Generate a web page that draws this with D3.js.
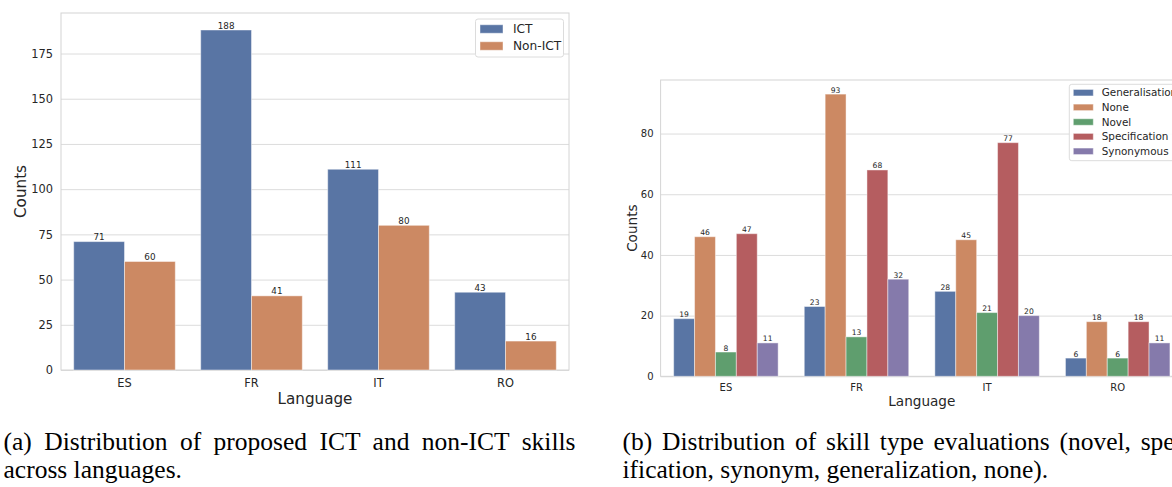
<!DOCTYPE html>
<html>
<head>
<meta charset="utf-8">
<script src="https://cdn.jsdelivr.net/npm/d3@7"></script>
<style>
  html, body { margin: 0; padding: 0; background: #ffffff; }
  svg { display: block; }
  .chart text { font-family: "DejaVu Sans", sans-serif; fill: #262626; }
  .caption { font-family: "Liberation Serif", "Times New Roman", serif; fill: #000; }
</style>
</head>
<body>
<svg id="fig" width="1172" height="487"></svg>
<script>
// Languages on the x axis of both panels
const languages = ["ES", "FR", "IT", "RO"];

// Panel (a): proposed skills per language
const ictSeries = ["ICT", "Non-ICT"];
const ictCounts = [71, 188, 111, 43];
const nonIctCounts = [60, 41, 80, 16];
const ictTicks = [0, 25, 50, 75, 100, 125, 150, 175];

// Panel (b): skill type evaluations per language
const typeSeries = ["Generalisation", "None", "Novel", "Specification", "Synonymous"];
const generalisationCounts = [19, 23, 28, 6];
const noneCounts = [46, 93, 45, 18];
const novelCounts = [8, 13, 21, 6];
const specificationCounts = [47, 68, 77, 18];
const synonymousCounts = [11, 32, 20, 11];
const typeTicks = [0, 20, 40, 60, 80];

const captionA = ["(a) Distribution of proposed ICT and non-ICT skills", "across languages."];
const captionB = ["(b) Distribution of skill type evaluations (novel, spec-", "ification, synonym, generalization, none)."];

// seaborn "deep" colours at 0.75 saturation
const palette = ["#5975a4", "#cc8963", "#5f9e6e", "#b55d60", "#857aab"];

const svg = d3.select("#fig");

function drawPanel(cfg) {
  const g = svg.append("g").attr("class", "chart");
  const { left, right, top, bottom } = cfg.frame;

  const x0 = d3.scaleBand().domain(languages).range([left, right]).paddingInner(0).paddingOuter(0);
  const inner = d3.scaleBand().domain(cfg.series)
    .range([0, x0.bandwidth() * 0.8]);
  const y = d3.scaleLinear().domain([0, cfg.ymax]).range([bottom, top]);

  // horizontal grid with tick labels
  const yAxis = d3.axisLeft(y).tickValues(cfg.ticks).tickSize(-(right - left)).tickPadding(cfg.tickPad);
  const ya = g.append("g").attr("transform", `translate(${left},0)`).call(yAxis);
  ya.select(".domain").remove();
  ya.selectAll(".tick line").attr("stroke", "#dcdcdc").attr("stroke-width", 1);
  ya.selectAll(".tick text").attr("font-size", cfg.tickFont).attr("fill", "#262626")
    .style("font-family", "DejaVu Sans, sans-serif");

  // frame
  g.append("rect").attr("x", left).attr("y", top).attr("width", right - left).attr("height", bottom - top)
    .attr("fill", "none").attr("stroke", "#d4d4d4").attr("stroke-width", 1);

  // bars and their value labels
  cfg.values.forEach((vals, si) => {
    const sg = g.append("g");
    sg.selectAll("rect").data(vals).join("rect")
      .attr("x", (d, i) => x0(languages[i]) + x0.bandwidth() * 0.1 + inner(cfg.series[si]))
      .attr("y", d => y(d))
      .attr("width", inner.bandwidth())
      .attr("height", d => y(0) - y(d))
      .attr("fill", palette[si])
      .attr("stroke", "rgba(255,255,255,0.45)")
      .attr("stroke-width", 1);
    sg.selectAll("text").data(vals).join("text")
      .attr("x", (d, i) => x0(languages[i]) + x0.bandwidth() * 0.1 + inner(cfg.series[si]) + inner.bandwidth() / 2)
      .attr("y", d => y(d) - 1.5)
      .attr("text-anchor", "middle")
      .attr("font-size", cfg.valueFont)
      .text(d => d);
  });

  // x axis labels
  const xAxis = d3.axisBottom(x0).tickSize(0).tickPadding(cfg.xPad);
  const xa = g.append("g").attr("transform", `translate(0,${bottom})`).call(xAxis);
  xa.select(".domain").remove();
  xa.selectAll(".tick text").attr("font-size", cfg.tickFont).attr("fill", "#262626")
    .style("font-family", "DejaVu Sans, sans-serif");

  // axis titles
  g.append("text").attr("x", (left + right) / 2).attr("y", cfg.xTitleY)
    .attr("text-anchor", "middle").attr("font-size", cfg.titleFont).text("Language");
  g.append("text")
    .attr("transform", `translate(${cfg.yTitleX},${(top + bottom) / 2}) rotate(-90)`)
    .attr("text-anchor", "middle").attr("font-size", cfg.titleFont).text("Counts");

  // legend
  const L = cfg.legend;
  const lg = g.append("g");
  lg.append("rect").attr("x", L.x).attr("y", L.y).attr("width", L.w).attr("height", L.h)
    .attr("rx", 2.5).attr("fill", "#ffffff").attr("fill-opacity", 0.9)
    .attr("stroke", "#dcdcdc").attr("stroke-width", 1);
  cfg.series.forEach((s, i) => {
    const cy = L.y + L.first + i * L.step;
    lg.append("rect").attr("x", L.x + L.swX).attr("y", cy - L.swH / 2)
      .attr("width", L.swW).attr("height", L.swH).attr("fill", palette[i])
      .attr("stroke", "rgba(255,255,255,0.45)");
    lg.append("text").attr("x", L.x + L.txX).attr("y", cy).attr("dy", "0.35em")
      .attr("font-size", L.font).text(s);
  });
}

drawPanel({
  frame: { left: 61, right: 569, top: 13, bottom: 370 },
  series: ictSeries,
  values: [ictCounts, nonIctCounts],
  ymax: 188 * 1.05,
  ticks: ictTicks,
  tickPad: 8,
  tickFont: 11.4,
  valueFont: 8.8,
  titleFont: 15.2,
  xPad: 9,
  xTitleY: 404,
  yTitleX: 26,
  legend: { x: 475.5, y: 19, w: 88, h: 38, first: 10, step: 17, swX: 4.5, swW: 23, swH: 8.5, txX: 37.5, font: 12.2 }
});

drawPanel({
  frame: { left: 660.6, right: 1183, top: 80, bottom: 376.3 },
  series: typeSeries,
  values: [generalisationCounts, noneCounts, novelCounts, specificationCounts, synonymousCounts],
  ymax: 93 * 1.05,
  ticks: typeTicks,
  tickPad: 7,
  tickFont: 10,
  valueFont: 7.6,
  titleFont: 13.6,
  xPad: 8,
  xTitleY: 406,
  yTitleX: 637,
  legend: { x: 1069.3, y: 84.3, w: 130, h: 76.4, first: 8.4, step: 14.65, swX: 4, swW: 20, swH: 6.5, txX: 32.4, font: 10.4 }
});

// captions, first line justified across the column width
function caption(lines, x, y0, width) {
  lines.forEach((line, i) => {
    const t = svg.append("text").attr("class", "caption")
      .attr("x", x).attr("y", y0 + i * 27.5).attr("font-size", 25.5).text(line);
    if (i < lines.length - 1) {
      const w = t.node().getComputedTextLength();
      const spaces = (line.match(/ /g) || []).length;
      if (spaces && w < width) t.attr("word-spacing", (width - w) / spaces);
    }
  });
}
caption(captionA, 3.5, 450, 572);
caption(captionB, 622.5, 450, 572);
</script>
</body>
</html>
